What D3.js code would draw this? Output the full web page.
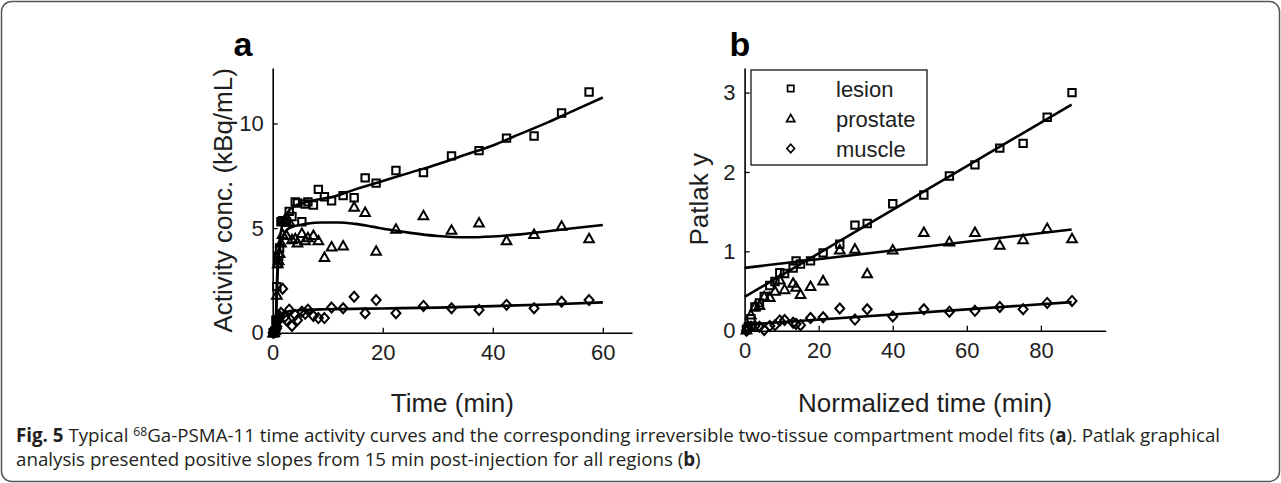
<!DOCTYPE html>
<html lang="en"><head>
<meta charset="utf-8">
<title>Fig. 5</title>
<script src="https://cdn.jsdelivr.net/npm/d3@7/dist/d3.min.js"></script>
<style>
  body { margin: 0; background: #fff; }
  svg { display: block; }
</style>
</head>
<body>
<script type="text/javascript">

var width = 1281;
var height = 483;

// panel a: time activity curves (frame mid times, min)
var frameTime = [0.08, 0.25, 0.42, 0.58, 0.75, 0.92, 1.08, 1.25, 1.5, 1.8, 2.2, 2.5, 3.0, 3.5, 4.1, 4.5, 5.3, 5.9, 6.4, 7.4, 8.3, 9.4, 10.7, 12.8, 14.8, 16.8, 18.8, 22.4, 27.4, 32.5, 37.5, 42.5, 47.5, 52.5, 57.5];
var lesionTac = [0.0, 0.02, 0.1, 0.6, 2.2, 3.3, 3.65, 4.05, 5.3, 5.35, 5.3, 5.3, 5.8, 5.55, 6.25, 6.2, 5.3, 6.15, 6.25, 6.1, 6.85, 6.5, 6.3, 6.55, 6.45, 7.4, 7.15, 7.75, 7.65, 8.45, 8.7, 9.3, 9.4, 10.5, 11.5];
var prostateTac = [0.0, 0.02, 0.1, 0.4, 1.8, 3.3, 3.45, 3.8, 4.3, 4.7, 5.4, 4.65, 5.3, 4.45, 4.5, 4.3, 4.75, 4.4, 4.55, 4.65, 4.4, 3.6, 4.1, 4.15, 6.0, 5.75, 3.9, 4.95, 5.6, 4.9, 5.25, 4.4, 4.7, 5.1, 4.5];
var muscleTac = [0.0, 0.01, 0.05, 0.15, 0.3, 0.55, 0.7, 0.8, 0.95, 2.1, 0.75, 0.6, 1.1, 0.32, 0.85, 0.6, 1.0, 0.9, 1.1, 0.8, 0.7, 0.7, 1.2, 1.17, 1.72, 0.93, 1.56, 0.93, 1.28, 1.17, 1.09, 1.33, 1.17, 1.48, 1.56];

// 2TCM fit curves [t, value]
var lesionFit = [[0, 0], [0.4, 0.05], [0.6, 0.8], [0.8, 2.6], [1.0, 3.7], [1.3, 4.5], [1.7, 5.1], [2.2, 5.5], [3, 5.85], [4, 6.05], [5.5, 6.2], [8, 6.35], [11, 6.5], [15, 6.85], [20, 7.25], [25, 7.65], [30, 8.05], [35, 8.5], [40, 8.95], [45, 9.5], [50, 10.05], [55, 10.65], [60, 11.24]];
var prostateFit = [[0, 0], [0.4, 0.05], [0.6, 0.7], [0.8, 2.3], [1.0, 3.3], [1.3, 4.0], [1.7, 4.5], [2.2, 4.8], [3, 5.0], [4, 5.1], [6, 5.2], [9, 5.27], [12, 5.27], [15, 5.2], [18, 5.07], [21, 4.93], [25, 4.77], [30, 4.62], [35, 4.56], [40, 4.6], [45, 4.7], [50, 4.85], [55, 5.0], [60, 5.15]];
var muscleFit = [[0, 0], [0.4, 0.02], [0.6, 0.2], [0.8, 0.55], [1.0, 0.75], [1.5, 0.9], [2.2, 0.98], [3, 1.03], [5, 1.08], [10, 1.12], [20, 1.16], [30, 1.2], [40, 1.27], [50, 1.35], [60, 1.45]];

// panel b: Patlak plot
var patlakX = [0.5, 1.0, 1.7, 2.8, 4.0, 5.3, 6.8, 8.2, 9.5, 10.8, 13.1, 13.9, 15.1, 17.8, 21.2, 25.7, 29.8, 33.1, 40.0, 48.4, 55.3, 62.2, 68.9, 75.2, 81.7, 88.4];
var lesionPatlak = [0.02, 0.05, 0.15, 0.3, 0.35, 0.43, 0.57, 0.62, 0.73, 0.72, 0.79, 0.88, 0.84, 0.88, 0.98, 1.09, 1.33, 1.35, 1.6, 1.71, 1.95, 2.09, 2.3, 2.36, 2.69, 3.0];
var prostatePatlak = [0.01, 0.05, 0.2, 0.3, 0.32, 0.43, 0.42, 0.5, 0.64, 0.52, 0.6, 0.55, 0.46, 0.56, 0.63, 1.02, 1.03, 0.72, 1.02, 1.24, 1.12, 1.24, 1.08, 1.15, 1.29, 1.16];
var musclePatlak = [0.0, 0.02, 0.05, 0.06, 0.05, 0.01, 0.06, 0.07, 0.13, 0.135, 0.1, 0.085, 0.07, 0.16, 0.17, 0.28, 0.14, 0.27, 0.18, 0.27, 0.24, 0.25, 0.3, 0.27, 0.35, 0.375];
// regression lines, end points [x, y]
var lesionLine = [[0, 0.425], [88.3, 2.85]];
var prostateLine = [[0, 0.792], [88.3, 1.275]];
var muscleLine = [[0, 0.075], [88.3, 0.36]];

var ticksA_x = [0, 20, 40, 60];
var ticksA_y = [0, 5, 10];
var ticksB_x = [0, 20, 40, 60, 80];
var ticksB_y = [0, 1, 2, 3];
var legendNames = ["lesion", "prostate", "muscle"];

var svg = d3.select("body").append("svg")
    .attr("width", width)
    .attr("height", height);

svg.append("rect")
    .attr("x", 1.5).attr("y", 1.5)
    .attr("width", width - 3).attr("height", height - 3)
    .attr("rx", 10)
    .attr("fill", "#fff")
    .attr("stroke", "#555")
    .attr("stroke-width", 1.5);

// marker shapes
var squareSym = { draw: function(ctx, s) { var r = 3.7; ctx.rect(-r, -r, 2 * r, 2 * r); } };
var triSym = { draw: function(ctx, s) { ctx.moveTo(0, -4.8); ctx.lineTo(4.8, 3.7); ctx.lineTo(-4.8, 3.7); ctx.closePath(); } };
var diaSym = { draw: function(ctx, s) { ctx.moveTo(0, -5); ctx.lineTo(4.5, 0); ctx.lineTo(0, 5); ctx.lineTo(-4.5, 0); ctx.closePath(); } };
var symbols = [squareSym, triSym, diaSym];

var fontAxis = "'Liberation Sans', Arial, sans-serif";
var ink = "#1e1e1e";

function drawAxes(x, y, xt, yt, xlabel, ylabel, ylabelX, letter, letterX) {
    var xr = x.range(), yr = y.range();
    var gx = svg.append("g")
        .attr("transform", "translate(0," + yr[0] + ")")
        .call(d3.axisBottom(x).tickValues(xt).tickSizeInner(-5).tickSizeOuter(0).tickPadding(12).tickFormat(d3.format("d")));
    var gy = svg.append("g")
        .attr("transform", "translate(" + xr[0] + ",0)")
        .call(d3.axisLeft(y).tickValues(yt).tickSizeInner(-5).tickSizeOuter(0).tickPadding(9).tickFormat(d3.format("d")));
    [gx, gy].forEach(function(g) {
        g.attr("font-family", fontAxis).attr("font-size", 22);
        g.select(".domain").attr("stroke", "#000").attr("stroke-width", 1.6);
        g.selectAll(".tick line").attr("stroke", "#000").attr("stroke-width", 1.3);
        g.selectAll(".tick text").attr("fill", ink);
    });
    svg.append("text")
        .attr("x", (xr[0] + xr[1]) / 2).attr("y", 412)
        .attr("text-anchor", "middle")
        .attr("font-family", fontAxis).attr("font-size", 26)
        .attr("fill", ink)
        .text(xlabel);
    svg.append("text")
        .attr("transform", "translate(" + ylabelX + "," + ((yr[0] + yr[1]) / 2) + ") rotate(-90)")
        .attr("text-anchor", "middle")
        .attr("font-family", fontAxis).attr("font-size", 26)
        .attr("fill", ink)
        .text(ylabel);
    svg.append("text")
        .attr("x", letterX).attr("y", 56)
        .attr("text-anchor", "middle")
        .attr("font-family", fontAxis).attr("font-size", 34).attr("font-weight", "bold")
        .attr("fill", "#000")
        .text(letter);
}

function drawPoints(x, y, xs, ys, sym) {
    svg.append("g").selectAll("path")
        .data(xs.map(function(d, i) { return [d, ys[i]]; }))
        .enter().append("path")
        .attr("transform", function(d) { return "translate(" + x(d[0]) + "," + y(d[1]) + ")"; })
        .attr("d", d3.symbol().type(sym))
        .attr("fill", "none")
        .attr("stroke", "#000")
        .attr("stroke-width", 2);
}

function drawLine(x, y, pts, curve) {
    svg.append("path")
        .datum(pts)
        .attr("d", d3.line().x(function(d) { return x(d[0]); }).y(function(d) { return y(d[1]); }).curve(curve))
        .attr("fill", "none")
        .attr("stroke", "#000")
        .attr("stroke-width", 2.6);
}

// ---- panel a
var xA = d3.scaleLinear().domain([0, 65.3]).range([272.7, 632]);
var yA = d3.scaleLinear().domain([0, 12.65]).range([332.7, 68]);

drawPoints(xA, yA, frameTime, lesionTac, squareSym);
drawPoints(xA, yA, frameTime, prostateTac, triSym);
drawPoints(xA, yA, frameTime, muscleTac, diaSym);
drawLine(xA, yA, lesionFit, d3.curveMonotoneX);
drawLine(xA, yA, prostateFit, d3.curveMonotoneX);
drawLine(xA, yA, muscleFit, d3.curveMonotoneX);
drawAxes(xA, yA, ticksA_x, ticksA_y, "Time (min)", "Activity conc. (kBq/mL)", 232, "a", 243);

// ---- panel b
var xB = d3.scaleLinear().domain([0, 97.5]).range([744.6, 1105.7]);
var yB = d3.scaleLinear().domain([0, 3.31]).range([330.7, 68]);

drawPoints(xB, yB, patlakX, lesionPatlak, squareSym);
drawPoints(xB, yB, patlakX, prostatePatlak, triSym);
drawPoints(xB, yB, patlakX, musclePatlak, diaSym);
drawLine(xB, yB, lesionLine, d3.curveLinear);
drawLine(xB, yB, prostateLine, d3.curveLinear);
drawLine(xB, yB, muscleLine, d3.curveLinear);
drawAxes(xB, yB, ticksB_x, ticksB_y, "Normalized time (min)", "Patlak y", 708, "b", 740);

// legend
var legend = svg.append("g");
legend.append("rect")
    .attr("x", 751).attr("y", 70)
    .attr("width", 176).attr("height", 95)
    .attr("fill", "#fff").attr("stroke", "#000").attr("stroke-width", 1.2);
legendNames.forEach(function(name, i) {
    var cy = 88.5 + i * 30;
    legend.append("path")
        .attr("transform", "translate(790.7," + cy + ") scale(0.85)")
        .attr("d", d3.symbol().type(symbols[i]))
        .attr("fill", "none").attr("stroke", "#000").attr("stroke-width", 2);
    legend.append("text")
        .attr("x", 836).attr("y", cy + 8)
        .attr("font-family", fontAxis).attr("font-size", 22)
        .attr("fill", ink)
        .text(name);
});

// caption: size the font so line 1 spans the same width as in the figure
var capFont = "'Open Sans', 'Noto Sans', sans-serif";
var cap1 = svg.append("text")
    .attr("x", 16).attr("y", 442)
    .attr("font-family", capFont).attr("font-size", 16)
    .attr("fill", "#231f20");
cap1.append("tspan").attr("font-weight", "bold").text("Fig. 5");
cap1.append("tspan").text(" Typical ");
cap1.append("tspan").attr("class", "sup").attr("dy", -6).text("68");
cap1.append("tspan").attr("dy", 6).text("Ga-PSMA-11 time activity curves and the corresponding irreversible two-tissue compartment model fits (");
cap1.append("tspan").attr("font-weight", "bold").text("a");
cap1.append("tspan").text("). Patlak graphical");

var cap2 = svg.append("text")
    .attr("x", 16).attr("y", 466)
    .attr("font-family", capFont).attr("font-size", 16)
    .attr("fill", "#231f20");
cap2.append("tspan").text("analysis presented positive slopes from 15 min post-injection for all regions (");
cap2.append("tspan").attr("font-weight", "bold").text("b");
cap2.append("tspan").text(")");

var fs = 16 * 1212 / cap1.node().getComputedTextLength();
cap1.attr("font-size", fs);
cap2.attr("font-size", fs);
cap1.select(".sup").attr("font-size", fs * 0.65);

</script>
</body></html>
